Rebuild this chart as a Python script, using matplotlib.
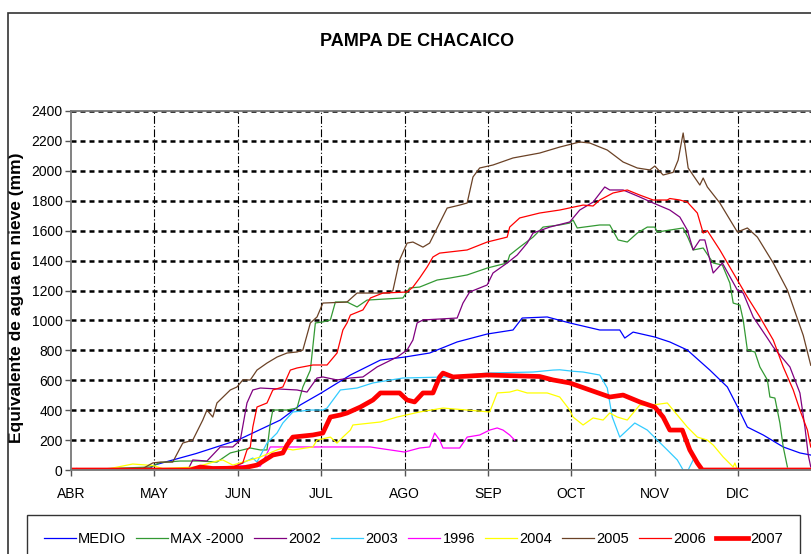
import matplotlib
matplotlib.use("Agg")
import matplotlib.pyplot as plt
from matplotlib.patches import Rectangle

plt.rcParams['font.family'] = ['Liberation Sans', 'DejaVu Sans']

# x = months since 1 April (0 = ABR, 1 = MAY, ...), y = mm
months = ["ABR", "MAY", "JUN", "JUL", "AGO", "SEP", "OCT", "NOV", "DIC"]
yticks = list(range(0, 2401, 200))

medio = [(0, 0), (0.6, 8), (0.95, 12), (1.00, 33), (1.5, 110), (2.00, 200), (2.51, 334), (2.75, 435),
         (3.00, 515), (3.35, 635), (3.71, 735), (4.00, 755), (4.30, 782), (4.63, 856), (4.99, 909),
         (5.30, 936), (5.41, 1016), (5.71, 1023), (5.98, 983), (6.34, 936), (6.58, 936), (6.64, 882),
         (6.74, 922), (7.00, 889), (7.18, 856), (7.39, 802), (7.66, 668), (7.87, 555), (8.00, 414),
         (8.11, 287), (8.30, 234), (8.54, 154), (8.74, 114), (8.87, 100)]

max2000 = [(0, 0), (0.95, 20), (1.07, 50), (1.31, 60), (1.55, 60), (1.75, 53), (1.91, 114), (2.15, 147),
           (2.27, 134), (2.35, 134), (2.39, 314), (2.42, 401), (2.59, 401), (2.71, 414), (2.78, 555),
           (2.87, 668), (2.93, 983), (3.02, 990), (3.11, 1003), (3.17, 1123), (3.31, 1123), (3.43, 1090),
           (3.55, 1136), (3.98, 1150), (4.06, 1217), (4.18, 1223), (4.39, 1270), (4.54, 1283),
           (4.75, 1304), (4.99, 1350), (5.23, 1384), (5.26, 1437), (5.38, 1490), (5.54, 1557),
           (5.66, 1624), (5.86, 1638), (5.98, 1651), (6.02, 1671), (6.07, 1618), (6.34, 1638),
           (6.46, 1638), (6.56, 1538), (6.67, 1524), (6.79, 1584), (6.91, 1624), (7.00, 1624),
           (7.03, 1591), (7.34, 1618), (7.40, 1551), (7.46, 1471), (7.58, 1484), (7.70, 1384),
           (7.81, 1370), (7.90, 1250), (7.94, 1116), (8.02, 1103), (8.06, 1003), (8.11, 802),
           (8.20, 789), (8.26, 689), (8.35, 602), (8.38, 488), (8.44, 481), (8.50, 314), (8.54, 154),
           (8.59, 20)]

y2002 = [(0, 0), (1.40, 0), (1.46, 67), (1.63, 60), (1.79, 154), (1.94, 154), (2.03, 200), (2.11, 448),
         (2.18, 535), (2.27, 548), (2.71, 535), (2.83, 521), (2.95, 615), (3.02, 622), (3.19, 602),
         (3.35, 615), (3.50, 622), (3.67, 689), (3.91, 755), (4.03, 802), (4.10, 869), (4.15, 983),
         (4.22, 1003), (4.63, 1016), (4.70, 1116), (4.78, 1190), (4.99, 1237), (5.06, 1317),
         (5.23, 1384), (5.35, 1437), (5.47, 1517), (5.54, 1584), (5.74, 1624), (5.98, 1658),
         (6.10, 1738), (6.26, 1791), (6.40, 1892), (6.46, 1872), (6.62, 1872), (6.82, 1825),
         (6.98, 1785), (7.18, 1738), (7.30, 1691), (7.39, 1604), (7.46, 1471), (7.54, 1538),
         (7.60, 1538), (7.70, 1317), (7.81, 1384), (7.99, 1203), (8.06, 1183), (8.18, 1023),
         (8.35, 882), (8.42, 822), (8.62, 689), (8.74, 515), (8.80, 287), (8.84, 100), (8.87, 20)]

y2003 = [(0, 0), (1.5, 0), (1.67, 20), (1.94, 20), (2.06, 47), (2.18, 80), (2.23, 53), (2.35, 180),
         (2.47, 247), (2.54, 314), (2.66, 388), (2.87, 401), (3.02, 401), (3.07, 414), (3.23, 535),
         (3.43, 548), (3.62, 582), (3.98, 615), (4.51, 622), (4.99, 648), (5.54, 655), (5.78, 668),
         (5.86, 670), (6.02, 660), (6.14, 655), (6.34, 635), (6.43, 548), (6.49, 354), (6.58, 220),
         (6.67, 267), (6.76, 314), (6.91, 267), (7.03, 200), (7.15, 134), (7.27, 67), (7.34, 0),
         (7.40, 0), (7.46, 67)]

y1996 = [(0.07, 10), (0.2, 0), (1.5, 0), (1.79, 20), (2.11, 30), (2.27, 25), (2.39, 154), (3.59, 154),
         (3.67, 147), (4.00, 120), (4.18, 147), (4.30, 154), (4.36, 247), (4.42, 200), (4.46, 147),
         (4.66, 147), (4.75, 220), (4.90, 234), (5.02, 267), (5.11, 281), (5.18, 267), (5.26, 234),
         (5.32, 200)]

y2004 = [(0, 0), (0.47, 10), (0.74, 40), (0.98, 30), (1.1, 10), (1.5, 20), (1.75, 60), (1.82, 67),
         (1.94, 33), (2.27, 87), (2.47, 134), (2.54, 147), (2.66, 134), (2.90, 154), (2.95, 200),
         (3.11, 220), (3.19, 180), (3.26, 220), (3.35, 267), (3.38, 301), (3.71, 321), (3.91, 354),
         (4.18, 388), (4.46, 414), (4.75, 401), (5.02, 388), (5.11, 515), (5.26, 521), (5.35, 535),
         (5.47, 515), (5.71, 515), (5.86, 488), (5.98, 401), (6.02, 354), (6.14, 301), (6.26, 348),
         (6.38, 334), (6.46, 381), (6.55, 354), (6.67, 334), (6.82, 435), (6.98, 435), (7.15, 448),
         (7.22, 401), (7.39, 287), (7.51, 220), (7.63, 200), (7.70, 167), (7.82, 87), (7.94, 20),
         (7.96, 47), (7.99, 0)]

y2005 = [(0, 0), (0.83, 0), (0.98, 47), (1.07, 53), (1.22, 53), (1.34, 180), (1.46, 200), (1.58, 334),
         (1.63, 401), (1.70, 354), (1.75, 448), (1.91, 535), (1.99, 555), (2.06, 602), (2.15, 602),
         (2.23, 668), (2.35, 715), (2.47, 755), (2.59, 782), (2.71, 789), (2.78, 802), (2.87, 983),
         (2.95, 1023), (3.02, 1116), (3.31, 1123), (3.43, 1183), (3.82, 1183), (3.86, 1200),
         (3.94, 1404), (4.03, 1517), (4.10, 1524), (4.22, 1490), (4.30, 1517), (4.42, 1651),
         (4.51, 1751), (4.66, 1771), (4.75, 1785), (4.82, 1959), (4.90, 2019), (5.06, 2039),
         (5.30, 2086), (5.62, 2119), (5.86, 2159), (6.10, 2193), (6.22, 2186), (6.43, 2139),
         (6.62, 2059), (6.79, 2019), (6.94, 2006), (7.00, 2032), (7.10, 1972), (7.22, 1990),
         (7.28, 2072), (7.34, 2253), (7.40, 2019), (7.54, 1905), (7.58, 1952), (7.63, 1892),
         (7.78, 1785), (7.99, 1591), (8.11, 1618), (8.23, 1557), (8.42, 1384), (8.59, 1203),
         (8.78, 900), (8.87, 700)]

y2006 = [(0, 0), (1.7, 0), (1.9, 10), (2.06, 47), (2.11, 134), (2.15, 154), (2.18, 287), (2.23, 421),
         (2.35, 448), (2.42, 535), (2.54, 555), (2.63, 668), (2.71, 682), (2.90, 702), (3.07, 702),
         (3.19, 782), (3.26, 936), (3.31, 983), (3.35, 1036), (3.50, 1070), (3.59, 1150), (3.74, 1183),
         (4.03, 1190), (4.10, 1223), (4.18, 1283), (4.27, 1357), (4.34, 1424), (4.42, 1450),
         (4.75, 1471), (4.99, 1524), (5.23, 1557), (5.26, 1624), (5.38, 1685), (5.62, 1718),
         (5.86, 1738), (6.14, 1771), (6.26, 1765), (6.34, 1805), (6.50, 1852), (6.67, 1872),
         (6.82, 1838), (6.98, 1805), (7.15, 1805), (7.18, 1815), (7.30, 1805), (7.39, 1791),
         (7.51, 1718), (7.58, 1584), (7.63, 1600), (7.78, 1471), (7.99, 1270), (8.11, 1156),
         (8.26, 1023), (8.42, 869), (8.54, 689), (8.66, 535), (8.74, 401), (8.83, 267), (8.87, 154)]

y2007 = [(0, 0), (1.43, 0), (1.55, 20), (1.7, 10), (2.06, 13), (2.23, 33), (2.42, 100), (2.54, 114),
         (2.59, 167), (2.66, 220), (2.90, 234), (3.02, 247), (3.11, 354), (3.23, 368), (3.31, 381),
         (3.47, 421), (3.62, 468), (3.71, 515), (3.94, 515), (4.03, 468), (4.12, 455), (4.22, 515),
         (4.34, 515), (4.42, 622), (4.46, 648), (4.58, 622), (4.99, 635), (5.62, 625), (5.78, 602),
         (5.98, 582), (6.22, 535), (6.46, 488), (6.62, 501), (6.82, 455), (7.00, 421), (7.10, 354),
         (7.18, 267), (7.33, 267), (7.42, 134), (7.51, 47), (7.57, 0), (8.87, 0)]

series = [
    ("MEDIO", medio, "#0000ff", 0.9),
    ("MAX -2000", max2000, "#339933", 0.9),
    ("2002", y2002, "#800080", 0.9),
    ("2003", y2003, "#33ccff", 0.9),
    ("1996", y1996, "#ff00ff", 0.9),
    ("2004", y2004, "#ffff00", 0.9),
    ("2005", y2005, "#6b4226", 0.9),
    ("2006", y2006, "#ff0000", 0.9),
    ("2007", y2007, "#ff0000", 3.4),
]

fig = plt.figure(figsize=(8.11, 5.54), dpi=100)
# axes run past the right edge of the picture, like the original crop
ax = fig.add_axes([71 / 811, 84 / 554, 9 * 83.4 / 811, 359 / 554])

for name, pts, col, lw in series:
    xs = [p[0] for p in pts]
    ys = [p[1] for p in pts]
    ax.plot(xs, ys, color=col, lw=lw, label=name, solid_joinstyle='round')

ax.set_xlim(0, 9)
ax.set_ylim(0, 2400)
ax.set_xticks(range(len(months)))
ax.set_xticklabels(months, fontsize=10)
ax.set_yticks(yticks)
ax.tick_params(axis='y', labelsize=10, length=4, width=1, color='#555555', pad=2)
ax.tick_params(axis='x', length=4, width=1, color='#555555', pad=8)

# grid: heavy dotted horizontals, thin dash-dot verticals
for yv in yticks[1:]:
    ax.axhline(yv, color='black', lw=1.8, ls=(0, (2, 1.6)), zorder=0)
for xv in range(1, 9):
    ax.axvline(xv, color='black', lw=0.8, ls=(0, (7, 2, 1, 2)), zorder=0)

for s in ['left', 'bottom', 'top']:
    ax.spines[s].set_color('#777777')
    ax.spines[s].set_linewidth(1.3)
ax.spines['right'].set_visible(False)

ax.set_ylabel('Equivalente de agua en nieve (mm)', fontsize=12.5, fontweight='bold', labelpad=2)
ax.yaxis.set_label_coords(-0.062, 0.48)
fig.text(417 / 811, 1 - 41 / 554, 'PAMPA DE CHACAICO', ha='center', va='center',
         fontsize=13, fontweight='bold')

# outer chart frame
fig.patches.append(Rectangle((8 / 811, -0.1), 1.1, 1 - 13 / 554 + 0.1, transform=fig.transFigure,
                             fill=False, ec='#333333', lw=1.2))

leg = fig.legend(loc='upper left', bbox_to_anchor=(27 / 811, 1 - 515 / 554 - 0.1, 773 / 811, 0.1),
                 mode='expand', ncol=9, fontsize=10.5, frameon=True, fancybox=False,
                 edgecolor='black', handlelength=2.2, handletextpad=0.15, columnspacing=0.6,
                 borderpad=1.15, borderaxespad=0)
leg.get_frame().set_linewidth(1.0)

fig.savefig('out.png', dpi=100)
